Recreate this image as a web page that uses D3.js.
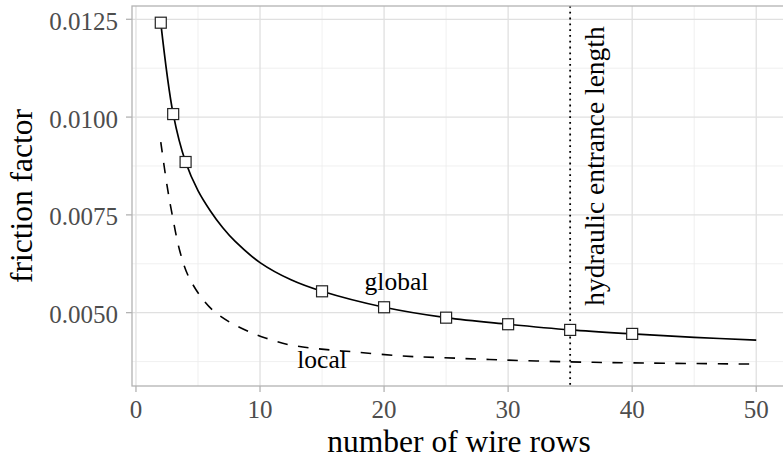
<!DOCTYPE html>
<html>
<head>
<meta charset="utf-8">
<script src="https://cdn.jsdelivr.net/npm/d3@7"></script>
<style>
    html, body { margin: 0; padding: 0; background: #fff; }
    svg { display: block; font-family: "Liberation Serif", "DejaVu Serif", serif; }
</style>
</head>
<body>
<div class="content"></div>
<script>
(function () {
    'use strict';

    // measured points on the global curve (fitted line) and markers
    var globalCurveX = [2, 3, 4, 5, 6, 7, 8, 10, 12.5, 15, 20, 25, 30, 35, 40, 45, 50],
        globalCurveY = [0.01241, 0.01008, 0.00885, 0.00812, 0.00760, 0.00717, 0.00682, 0.00628, 0.00584,
            0.005546, 0.005138, 0.004872, 0.004704, 0.004559, 0.004457, 0.00437, 0.004296],
        markerX = [2, 3, 4, 15, 20, 25, 30, 35, 40],
        markerY = [0.012413, 0.010077, 0.008852, 0.005546, 0.005138, 0.004872, 0.004704, 0.004559, 0.004457],
        localCurveX = [2, 2.5, 2.9, 3.55, 4.2, 5.2, 6.2, 7.6, 9.2, 10.5, 12.4, 15.6, 17.3, 21.3, 24.5, 29.4, 35, 40, 50],
        localCurveY = [0.009362, 0.008258, 0.007536, 0.006556, 0.005950, 0.005420, 0.005060, 0.00475, 0.00450,
            0.004347, 0.004176, 0.004048, 0.004005, 0.003895, 0.003852, 0.003793, 0.003742, 0.003717, 0.003684],
        xTicks = [0, 10, 20, 30, 40, 50],
        xMinor = [5, 15, 25, 35, 45],
        yTicks = [0.005, 0.0075, 0.01, 0.0125],
        yMinor = [0.00375, 0.00625, 0.00875, 0.01125],
        entranceLength = 35,
        labels = [
            {text: 'global', x: 21, y: 0.00578},
            {text: 'local', x: 15, y: 0.00379}
        ];

    var W = 783, H = 459,
        panel = {left: 132, right: 786, top: 6, bottom: 386},
        grid = '#e0e0e0', minorGrid = '#ececec', border = '#b3b3b3';

    var x = d3.scaleLinear().domain([-0.32, 52.4]).range([panel.left, panel.right]),
        y = d3.scaleLinear().domain([0.003125, 0.01284]).range([panel.bottom, panel.top]);

    var svg = d3.select('.content').append('svg')
        .attr('width', W).attr('height', H);

    function zip(xs, ys) {
        return xs.map(function (v, i) { return [v, ys[i]]; });
    }

    // grid
    var gGrid = svg.append('g');
    gGrid.selectAll('line.vminor').data(xMinor).enter().append('line')
        .attr('x1', x).attr('x2', x).attr('y1', panel.top).attr('y2', panel.bottom)
        .attr('stroke', minorGrid).attr('stroke-width', 0.8);
    gGrid.selectAll('line.hminor').data(yMinor).enter().append('line')
        .attr('y1', y).attr('y2', y).attr('x1', panel.left).attr('x2', panel.right)
        .attr('stroke', minorGrid).attr('stroke-width', 0.8);
    gGrid.selectAll('line.vmajor').data(xTicks).enter().append('line')
        .attr('x1', x).attr('x2', x).attr('y1', panel.top).attr('y2', panel.bottom)
        .attr('stroke', grid).attr('stroke-width', 1.3);
    gGrid.selectAll('line.hmajor').data(yTicks).enter().append('line')
        .attr('y1', y).attr('y2', y).attr('x1', panel.left).attr('x2', panel.right)
        .attr('stroke', grid).attr('stroke-width', 1.3);

    // curves
    var line = d3.line()
        .x(function (d) { return x(d[0]); })
        .y(function (d) { return y(d[1]); })
        .curve(d3.curveCatmullRom.alpha(0.5));

    svg.append('path').datum(zip(localCurveX, localCurveY))
        .attr('d', line).attr('fill', 'none')
        .attr('stroke', '#000').attr('stroke-width', 1.6)
        .attr('stroke-dasharray', '10.5,10.5');

    svg.append('path').datum(zip(globalCurveX, globalCurveY))
        .attr('d', line).attr('fill', 'none')
        .attr('stroke', '#000').attr('stroke-width', 1.7);

    // hydraulic entrance length
    svg.append('line')
        .attr('x1', x(entranceLength)).attr('x2', x(entranceLength))
        .attr('y1', panel.top).attr('y2', panel.bottom)
        .attr('stroke', '#000').attr('stroke-width', 1.8)
        .attr('stroke-dasharray', '1.8,4');

    // markers
    svg.selectAll('rect.marker').data(zip(markerX, markerY)).enter().append('rect')
        .attr('class', 'marker')
        .attr('x', function (d) { return x(d[0]) - 5.5; })
        .attr('y', function (d) { return y(d[1]) - 5.5; })
        .attr('width', 11).attr('height', 11)
        .attr('fill', '#fff').attr('stroke', '#222').attr('stroke-width', 1.2);

    // annotations
    svg.selectAll('text.lbl').data(labels).enter().append('text')
        .attr('x', function (d) { return x(d.x); })
        .attr('y', function (d) { return y(d.y) + 8; })
        .attr('text-anchor', 'middle')
        .attr('font-size', 25.5)
        .attr('fill', '#000')
        .text(function (d) { return d.text; });

    svg.append('text')
        .attr('transform', 'translate(604,166) rotate(-90)')
        .attr('text-anchor', 'middle')
        .attr('font-size', 27.5)
        .attr('fill', '#000')
        .text('hydraulic entrance length');

    // panel border
    svg.append('rect')
        .attr('x', panel.left).attr('y', panel.top)
        .attr('width', panel.right - panel.left).attr('height', panel.bottom - panel.top)
        .attr('fill', 'none').attr('stroke', border).attr('stroke-width', 1.3);

    // ticks and tick labels
    svg.selectAll('line.xtick').data(xTicks).enter().append('line')
        .attr('x1', x).attr('x2', x).attr('y1', panel.bottom).attr('y2', panel.bottom + 6)
        .attr('stroke', border).attr('stroke-width', 1.3);
    svg.selectAll('text.xtick').data(xTicks).enter().append('text')
        .attr('x', x).attr('y', 418)
        .attr('text-anchor', 'middle')
        .attr('font-size', 25).attr('fill', '#4d4d4d')
        .text(function (d) { return d; });

    svg.selectAll('line.ytick').data(yTicks).enter().append('line')
        .attr('y1', y).attr('y2', y).attr('x1', panel.left - 6).attr('x2', panel.left)
        .attr('stroke', border).attr('stroke-width', 1.3);
    svg.selectAll('text.ytick').data(yTicks).enter().append('text')
        .attr('x', 118).attr('y', function (d) { return y(d) + 10.5; })
        .attr('text-anchor', 'end')
        .attr('font-size', 25).attr('fill', '#4d4d4d')
        .text(d3.format('.4f'));

    // axis titles
    svg.append('text')
        .attr('x', (panel.left + panel.right) / 2).attr('y', 452)
        .attr('text-anchor', 'middle')
        .attr('font-size', 31.5).attr('fill', '#000')
        .text('number of wire rows');

    svg.append('text')
        .attr('transform', 'translate(32,' + (panel.top + panel.bottom) / 2 + ') rotate(-90)')
        .attr('text-anchor', 'middle')
        .attr('font-size', 31.5).attr('fill', '#000')
        .text('friction factor');
}());
</script>
</body>
</html>
